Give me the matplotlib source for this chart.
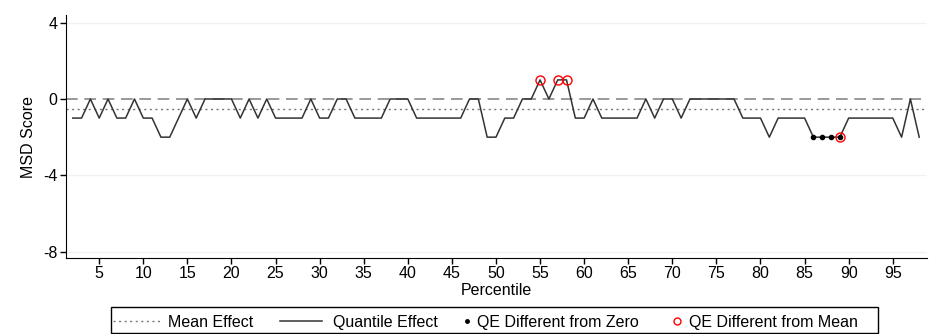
import numpy as np
import matplotlib.pyplot as plt
from matplotlib.lines import Line2D
from matplotlib.patches import Rectangle

plt.rcParams['font.family'] = ['Liberation Sans', 'DejaVu Sans']

# percentiles and quantile effects
pct = np.arange(2, 99)
qe = [-1, -1, 0, -1, 0, -1, -1, 0, -1, -1,      # 2-11
      -2, -2, -1, 0, -1, 0, 0, 0, 0, -1,        # 12-21
      0, -1, 0, -1, -1, -1, -1, 0, -1, -1,      # 22-31
      0, 0, -1, -1, -1, -1, 0, 0, 0, -1,        # 32-41
      -1, -1, -1, -1, -1, 0, 0, -2, -2, -1,     # 42-51
      -1, 0, 0, 1, 0, 1, 1, -1, -1, 0,          # 52-61
      -1, -1, -1, -1, -1, 0, -1, 0, 0, -1,      # 62-71
      0, 0, 0, 0, 0, 0, -1, -1, -1, -2,         # 72-81
      -1, -1, -1, -1, -2, -2, -2, -2, -1, -1,   # 82-91
      -1, -1, -1, -1, -2, 0, -2]                # 92-98
mean_effect = -0.53
diff_zero = [86, 87, 88, 89]
diff_mean = [55, 57, 58, 89]

W, H = 934, 334
fs = 11.5
qe = np.array(qe)
fig = plt.figure(figsize=(W/100, H/100), dpi=100)
ax = fig.add_axes([65.7/W, 1-258/H, (926.7-65.7)/W, (258-15)/H])

for yv in [4, -4, -8]:
    ax.axhline(yv, color='#eef2f5', lw=1, zorder=0)
ax.axhline(0, color='#888888', lw=1.2, ls=(0, (7, 4)), zorder=1)
ax.axhline(mean_effect, color='#777777', lw=1, ls=(0, (1.5, 2.5)), zorder=1)
ax.plot(pct, qe, color='#333333', lw=1.1, zorder=2)

z = np.isin(pct, diff_zero)
ax.plot(pct[z], qe[z], 'o', color='black', ms=3, zorder=3)
m = np.isin(pct, diff_mean)
ax.plot(pct[m], qe[m], 'o', mfc='none', mec='red', mew=1, ms=6.5, zorder=4)

ax.set_xlim(1.2, 98.85)
ax.set_ylim(-8.33, 4.4)
ax.set_xticks(range(5, 96, 5))
ax.set_yticks([-8, -4, 0, 4])
ax.set_yticklabels(['-8', '-4', '0', '4'])
ax.tick_params(labelsize=fs, length=4, width=1, pad=2)
ax.spines['top'].set_visible(False)
ax.spines['right'].set_visible(False)
ax.set_xlabel('Percentile', fontsize=fs, labelpad=1)
ax.set_ylabel('MSD Score', fontsize=fs, labelpad=5)

# legend drawn by hand so marker keys can be short like the original
def px(x, y):
    return x / W, 1 - y / H

fig.add_artist(Rectangle(px(111, 333), (878-111)/W, (333-307)/H,
                         transform=fig.transFigure, fill=False,
                         edgecolor='black', lw=1))
ly = 320.5
fig.add_artist(Line2D([113/W, 160/W], [px(0, ly)[1]]*2, color='#777777', lw=1,
                      ls=(0, (1.5, 2.5)), transform=fig.transFigure))
fig.add_artist(Line2D([280/W, 322/W], [px(0, ly)[1]]*2, color='#333333',
                      lw=1.1, transform=fig.transFigure))
fig.add_artist(Line2D([467/W], [px(0, ly)[1]], ls='none', marker='o',
                      color='black', ms=2.5, transform=fig.transFigure))
fig.add_artist(Line2D([677/W], [px(0, ly)[1]], ls='none', marker='o',
                      mfc='none', mec='red', ms=5, transform=fig.transFigure))
for x0, lab in [(168, 'Mean Effect'), (333, 'Quantile Effect'),
                (477, 'QE Different from Zero'), (689, 'QE Different from Mean')]:
    fig.text(*px(x0, 327), lab, fontsize=fs, va='baseline', ha='left')

fig.savefig('out.png', dpi=100)
